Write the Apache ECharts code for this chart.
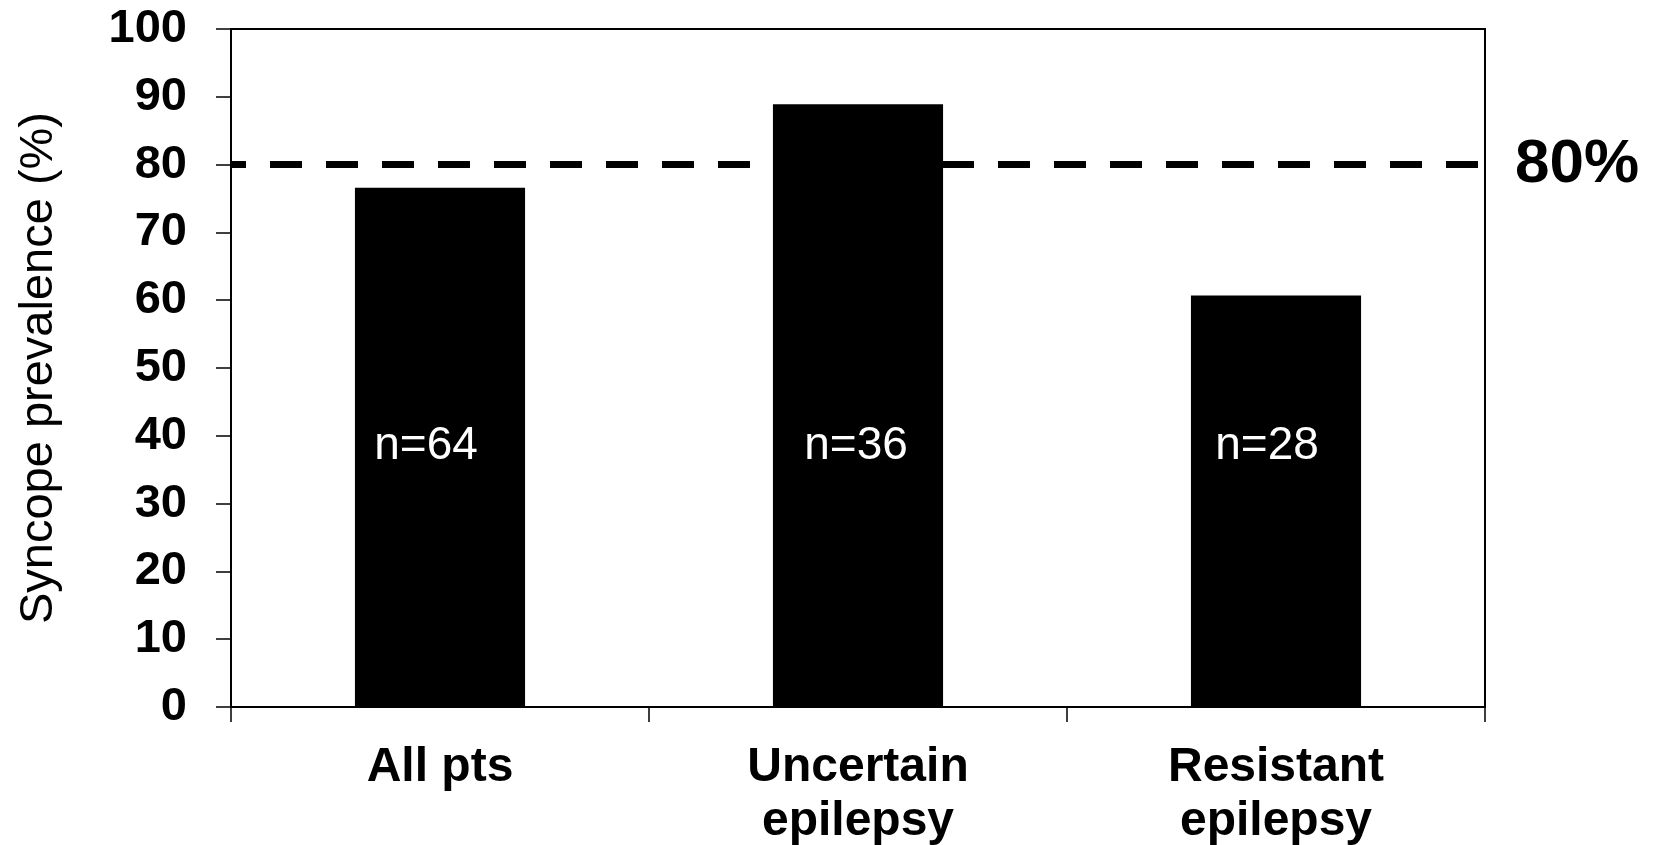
<!DOCTYPE html>
<html>
<head>
<meta charset="utf-8">
<script src="https://cdn.jsdelivr.net/npm/echarts@6/dist/echarts.min.js"></script>
<style>
html,body{margin:0;padding:0;background:#fff;}
#chart{width:1653px;height:845px;}
</style>
</head>
<body>
<div id="chart"></div>
<script>
var categories = ['All pts', 'Uncertain\nepilepsy', 'Resistant\nepilepsy'];
var prevalence = [76.6, 88.9, 60.7];
var nValues = [64, 36, 28];
var refValue = 80;
var refLabel = '80%';
var yTicks = {min: 0, max: 100, interval: 10};
var yAxisTitle = 'Syncope prevalence (%)';

var FONT = '"Liberation Sans", Arial, sans-serif';
// small horizontal nudges of the in-bar labels (style only)
var labelNudge = [-14, -2, -9];

var barData = prevalence.map(function (v, i) {
  return {value: v, label: {offset: [labelNudge[i], 0]}};
});

var chart = echarts.init(document.getElementById('chart'), null, {renderer: 'canvas'});
chart.setOption({
  animation: false,
  backgroundColor: '#ffffff',
  grid: {left: 231, right: 168, top: 29, bottom: 138, show: true, borderColor: '#000', borderWidth: 2, backgroundColor: 'transparent', containLabel: false, outerBoundsMode: 'none'},
  xAxis: {
    type: 'category',
    data: categories,
    boundaryGap: true,
    axisLine: {lineStyle: {color: '#000', width: 2}},
    axisTick: {show: true, length: 15, lineStyle: {color: '#000', width: 1.5}},
    axisLabel: {margin: 34, fontFamily: FONT, fontSize: 48, fontWeight: 'bold', color: '#000', lineHeight: 54, interval: 0},
    splitLine: {show: false}
  },
  yAxis: {
    type: 'value',
    min: yTicks.min, max: yTicks.max, interval: yTicks.interval,
    name: yAxisTitle,
    nameLocation: 'middle',
    nameGap: 168,
    nameRotate: 90,
    nameTextStyle: {fontFamily: FONT, fontSize: 47, color: '#000'},
    axisLine: {show: true, lineStyle: {color: '#000', width: 2}},
    axisTick: {show: true, length: 15, lineStyle: {color: '#000', width: 1.5}},
    axisLabel: {margin: 44, fontFamily: FONT, fontSize: 47, fontWeight: 'bold', color: '#000'},
    splitLine: {show: false}
  },
  series: [
    {
      type: 'line',
      data: [],
      z: 1,
      silent: true,
      markLine: {
        silent: true,
        symbol: ['none', 'none'],
        lineStyle: {color: '#000', width: 7, type: [32, 24], dashOffset: 17},
        label: {show: true, position: 'end', formatter: refLabel, distance: 30, fontFamily: FONT, fontSize: 62, fontWeight: 'bold', color: '#000'},
        data: [{yAxis: refValue}]
      }
    },
    {
      type: 'bar',
      z: 3,
      data: barData,
      barCategoryGap: '59.3%',
      itemStyle: {color: '#000'},
      label: {
        show: true,
        position: 'insideBottom',
        distance: 238,
        formatter: function (p) { return 'n=' + nValues[p.dataIndex]; },
        fontFamily: FONT, fontSize: 46, color: '#fff'
      }
    }
  ]
});
</script>
</body>
</html>
